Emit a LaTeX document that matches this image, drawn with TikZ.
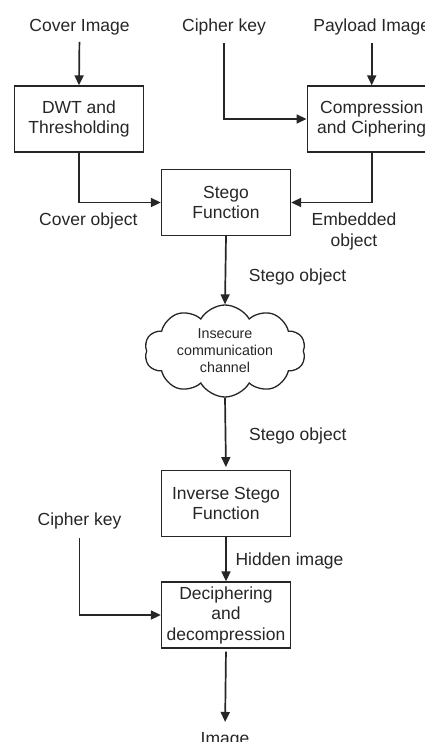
\documentclass[tikz,border=0pt]{standalone}
\usepackage{fontspec}
\setmainfont{Liberation Sans}
\usetikzlibrary{arrows.meta,shapes.symbols}
\definecolor{ink}{HTML}{262626}
\begin{document}
\begin{tikzpicture}[x=1pt,y=-1pt,
  txt/.style={font=\fontsize{17.5}{20.5}\selectfont,text=ink,inner sep=0pt,align=center},
  lbl/.style={txt,anchor=base},
  box/.style={txt,draw=ink,line width=1.3pt,rectangle,minimum width=129pt,minimum height=66pt},
  conn/.style={draw=ink,line width=1.7pt},
  arr/.style={conn,-{Triangle[length=10pt,width=9pt]}},
  ]
\useasboundingbox (0,0) rectangle (425,742);
% top labels
\node[lbl] (cover) at (79.5,31) {Cover Image};
\node[lbl] (ckey) at (224,31) {Cipher key};
\node[lbl] (payload) at (371.7,31) {Payload Image};
% boxes
\node[box] (dwt) at (79,119) {DWT and\\Thresholding};
\node[box] (comp) at (371.7,119) {Compression\\and Ciphering};
\node[box] (stego) at (226,202.5) {Stego\\Function};
\node[cloud,cloud puffs=10,cloud puff arc=120,cloud ignores aspect,draw=ink,line width=1.3pt,
  minimum width=161pt,minimum height=92pt,inner sep=0pt] (cloud) at (225,351) {};
\node[txt,font=\fontsize{14.3}{17}\selectfont] (cloudtxt) at (cloud.center) {Insecure\\communication\\channel};
\node[box] (inv) at (226,503.7) {Inverse Stego\\Function};
\node[box] (dec) at (226,615) {Deciphering\\and\\decompression};
% labels
\node[lbl] (coverobj) at (88.3,225) {Cover object};
\node[lbl] (embobj) at (354,246) {Embedded\\object};
\node[lbl] (so1) at (297.5,281.7) {Stego object};
\node[lbl] (so2) at (297.8,440.7) {Stego object};
\node[lbl] (hidden) at (289.5,565.3) {Hidden image};
\node[lbl] (ckey2) at (79.5,525) {Cipher key};
\node[lbl] (img) at (225,744.2) {Image};
% connectors
\draw[arr,shorten <=7pt] (cover.south) -- (dwt.north);
\draw[arr,shorten <=8pt] (ckey.south) |- (comp.west);
\draw[arr,shorten <=8pt] (payload.south) -- (comp.north);
\draw[arr] (dwt.south) |- (stego.west);
\draw[arr] (comp.south) |- (stego.east);
\draw[arr] (stego.south) -- (cloud.north);
\draw[arr,shorten >=3pt] (cloud.south) -- (inv.north);
\draw[arr] (inv.south) -- (dec.north);
\draw[arr,shorten <=9pt] (ckey2.south) |- (dec.west);
\draw[arr,shorten <=3pt,shorten >=10pt] (dec.south) -- (img.north);
\end{tikzpicture}
\end{document}
